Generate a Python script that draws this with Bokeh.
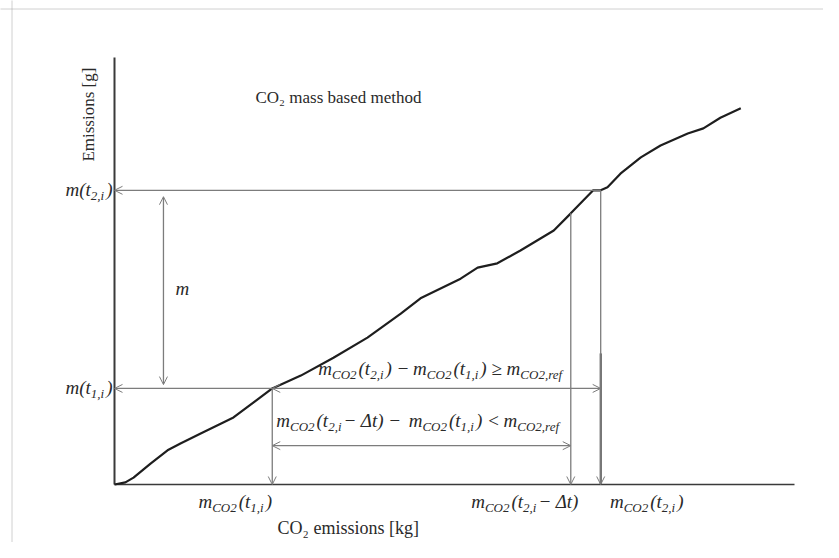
from bokeh.plotting import figure
from bokeh.models import Range1d, Arrow, OpenHead, Span
from bokeh.core.properties import value
from bokeh.embed import file_html
from bokeh.resources import INLINE

# ---------------- data (schematic units: axes run 0..100) ----------------
curve_x = [0.0, 1.6, 2.8, 5.3, 7.8, 9.7, 12.6, 17.5, 23.2, 27.4, 32.2, 37.2, 42.1,
           45.0, 50.9, 53.4, 56.3, 59.7, 64.6, 67.1, 70.4, 71.5, 72.5, 74.4, 77.4,
           80.3, 84.3, 86.6, 89.1, 92.1]
curve_y = [0.0, 0.5, 1.6, 4.9, 8.0, 9.6, 11.9, 15.7, 22.5, 25.5, 29.7, 34.4, 40.0,
           43.6, 48.2, 50.8, 51.8, 54.8, 59.5, 63.5, 68.9, 68.9, 69.6, 72.8, 76.6,
           79.4, 82.2, 83.4, 85.9, 88.1]

axis_max_x = 100.0
axis_max_y = 100.0
t1_x, t1_y = 23.2, 22.5          # m_CO2(t1,i), m(t1,i)
t2_x, t2_y = 71.5, 68.9          # m_CO2(t2,i), m(t2,i)
t2d_x, t2d_y = 67.1, 63.5        # m_CO2(t2,i - dt)
second_arrow_y = 9.1
thick_top_y = 30.7
m_arrow_x = 7.2
m_arrow_y = [23.4, 67.4]

title_text = "CO\u2082 mass based method"
xlabel_text = "CO\u2082 emissions  [kg]"
ylabel_text = "Emissions  [g]"

# ---------------- layout ----------------
W, H = 823, 542
PX_X, PX_Y = 6.8, 4.27           # pixels per unit
ORIG_X, ORIG_Y = 114, 484        # origin on canvas
x0 = -ORIG_X / PX_X
y1 = ORIG_Y / PX_Y
x_rng = Range1d(x0, x0 + W / PX_X)
y_rng = Range1d(y1 - H / PX_Y, y1)

def dx(px):
    return px / PX_X

def dy(px):
    return -px / PX_Y   # px positive = downwards on screen

p = figure(width=W, height=H, x_range=x_rng, y_range=y_rng, title=None,
           toolbar_location=None, output_backend="svg",
           x_axis_type=None, y_axis_type=None, min_border=0,
           outline_line_color=None, background_fill_color="white",
           border_fill_color="white")

GRAY = "#7c7c7c"
DARK = "#3a3a3a"
TXT = "#2a2a2a"
SERIF = value("Liberation Serif")

# page border (top and left only visible)
p.add_layout(Span(location=y1 - 8.5 / PX_Y, dimension="width", line_color="#a0a0a0",
                  line_width=1, line_dash="1 1"))
p.add_layout(Span(location=x0 + 11.5 / PX_X, dimension="height", line_color="#a0a0a0",
                  line_width=1, line_dash="1 1"))

# axes
p.line([0, 0], [0, axis_max_y], line_color=DARK, line_width=2)
p.line([0, axis_max_x], [0, 0], line_color=DARK, line_width=1.6)

def arrow(xs, ys, xe, ye, both=False, color=GRAY, width=1.3):
    head = lambda: OpenHead(size=8, line_color=color, line_width=1)
    p.add_layout(Arrow(x_start=xs, y_start=ys, x_end=xe, y_end=ye,
                       start=head() if both else None, end=head(),
                       line_color=color, line_width=width))

# horizontal guides to y axis
arrow(t2_x, t2_y, 0, t2_y)
arrow(t1_x, t1_y, 0, t1_y)
# m double arrow
arrow(m_arrow_x, m_arrow_y[0], m_arrow_x, m_arrow_y[1], both=True)
# verticals down to x axis
arrow(t1_x, t1_y, t1_x, 0)
arrow(t2d_x, t2d_y, t2d_x, 0)
arrow(t2_x, t2_y, t2_x, 0)
p.line([t2_x, t2_x], [thick_top_y, 0], line_color=DARK, line_width=2)
# horizontal double arrows
arrow(t1_x, t1_y, t2_x, t1_y, both=True)
arrow(t1_x, second_arrow_y, t2d_x, second_arrow_y, both=True)

# curve
p.line(curve_x, curve_y, line_color="#1e1e1e", line_width=2.2)

# ---------------- text ----------------
p.text(x=[dx(255 - 114)], y=[dy(97 - 484)], text=[title_text], text_font=SERIF,
       text_font_size="17px", text_baseline="middle", text_align="left", text_color=TXT)
p.text(x=[dx(350 - 114)], y=[dy(527 - 484)], text=[xlabel_text], text_font=SERIF,
       text_font_size="18px", text_baseline="middle", text_align="center", text_color=TXT)
p.text(x=[dx(88 - 114)], y=[dy(112 - 484)], text=[ylabel_text], text_font=SERIF,
       text_font_size="17px", text_baseline="middle", text_align="center",
       angle=1.5708, text_color=TXT)

WID = {"m": .722, "c": .444, "o": .5, "C": .667, "O": .722, "t": .278, "i": .278,
       "r": .389, "e": .444, "f": .278, "(": .333, ")": .333, " ": .25, ",": .25,
       "\u2212": .62, "\u2265": .549, "<": .62, "\u0394": .58}
MAIN, SUB = 19, 13

def seg_width(s, size):
    return sum(WID.get(ch, .5) for ch in s) * size

def math_label(x, y, segs, off_x, off_y, align="left"):
    total = sum(seg_width(s, SUB if sub else MAIN) for s, sub in segs)
    start = off_x if align == "left" else (off_x - total if align == "right" else off_x - total / 2)
    cur = start
    for s, sub in segs:
        size = SUB if sub else MAIN
        p.text(x=[x + dx(cur)], y=[y + dy(off_y + (6 if sub else 0))], text=[s],
               text_font=SERIF, text_font_style="italic", text_font_size=f"{size}px",
               text_baseline="middle", text_align="left", text_color=TXT)
        cur += seg_width(s, size) + (2 if sub else 0)

N, S = False, True
math_label(0, t2_y, [("m(t", N), ("2,i", S), (")", N)], -4, -1, "right")
math_label(0, t1_y, [("m(t", N), ("1,i", S), (")", N)], -4, -1, "right")
math_label(m_arrow_x, (m_arrow_y[0] + m_arrow_y[1]) / 2, [("m", N)], 12, -2, "left")
math_label(t1_x, 0, [("m", N), ("CO2", S), ("(t", N), ("1,i", S), (")", N)], -39, 17, "center")
math_label(t2d_x, 0, [("m", N), ("CO2", S), ("(t", N), ("2,i", S), (" \u2212 \u0394t)", N)], -46, 17, "center")
math_label(t2_x, 0, [("m", N), ("CO2", S), ("(t", N), ("2,i", S), (")", N)], 44, 17, "center")
math_label(t1_x, t1_y, [("m", N), ("CO2", S), ("(t", N), ("2,i", S), (") \u2212 ", N),
                        ("m", N), ("CO2", S), ("(t", N), ("1,i", S), (") \u2265 ", N),
                        ("m", N), ("CO2,ref", S)], 46, -20, "left")
math_label(t1_x, second_arrow_y, [("m", N), ("CO2", S), ("(t", N), ("2,i", S), (" \u2212 \u0394t) \u2212 ", N),
                                  ("m", N), ("CO2", S), ("(t", N), ("1,i", S), (") < ", N),
                                  ("m", N), ("CO2,ref", S)], 4, -25, "left")

open("out.html", "w").write(file_html(p, INLINE))
